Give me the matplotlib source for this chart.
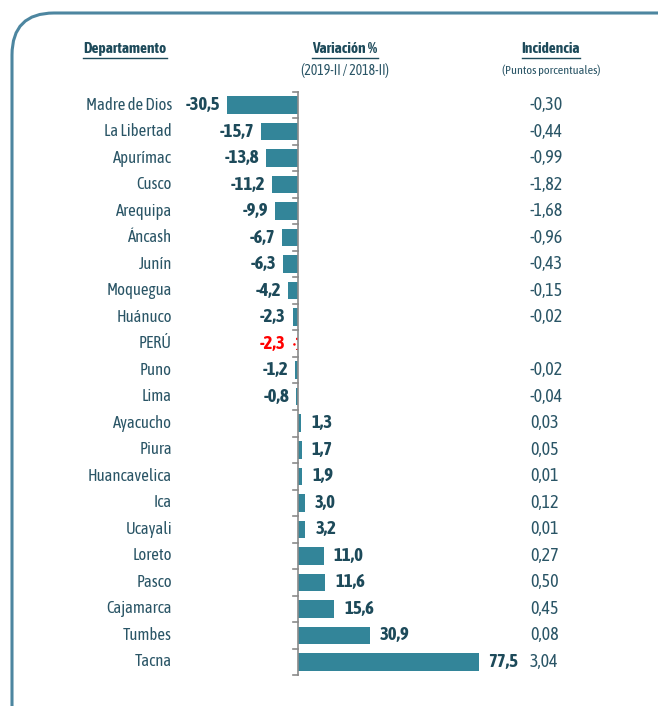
"""Variación % por departamento (2019-II / 2018-II) con incidencia."""
import matplotlib.pyplot as plt
import numpy as np
from matplotlib.patches import FancyBboxPatch
from matplotlib.lines import Line2D

plt.rcParams["font.family"] = ["Asap Condensed", "DejaVu Sans"]

departamentos = ["Madre de Dios", "La Libertad", "Apurímac", "Cusco", "Arequipa",
                 "Áncash", "Junín", "Moquegua", "Huánuco", "PERÚ", "Puno", "Lima",
                 "Ayacucho", "Piura", "Huancavelica", "Ica", "Ucayali", "Loreto",
                 "Pasco", "Cajamarca", "Tumbes", "Tacna"]
variacion = [-30.5, -15.7, -13.8, -11.2, -9.9, -6.7, -6.3, -4.2, -2.3, -2.3, -1.2,
             -0.8, 1.3, 1.7, 1.9, 3.0, 3.2, 11.0, 11.6, 15.6, 30.9, 77.5]
incidencia = [-0.30, -0.44, -0.99, -1.82, -1.68, -0.96, -0.43, -0.15, -0.02, None,
              -0.02, -0.04, 0.03, 0.05, 0.01, 0.12, 0.01, 0.27, 0.50, 0.45, 0.08, 3.04]

BAR = "#338599"
TXT = "#2a5566"
HEAD = "#1d4a5a"
W, H = 658, 706
PX = 2.33          # pixels per unit of variation
X0, Y0, DY = 298, 105, 26.52   # zero line, first row, row step (pixels)


def fmt(v, d):
    return f"{v:.{d}f}".replace(".", ",")


fig = plt.figure(figsize=(W / 100, H / 100), dpi=100)

# frame
bg = fig.add_axes([0, 0, 1, 1])
bg.set_xlim(0, W); bg.set_ylim(H, 0); bg.axis("off")
bg.add_patch(FancyBboxPatch((12, 13), 720, 760, boxstyle="round,pad=0,rounding_size=42",
                            fc="white", ec="#4d86a0", lw=2.2))

ax = fig.add_axes([0, 0, 1, 1], facecolor="none")
ax.set_xlim(-X0 / PX, (W - X0) / PX)
ax.set_ylim((H - Y0) / DY, -Y0 / DY)
ax.axis("off")

y = np.arange(len(departamentos))
colors = ["none" if d == "PERÚ" else BAR for d in departamentos]
ax.barh(y, variacion, height=0.66, color=colors)
i_peru = departamentos.index("PERÚ")
ax.barh(i_peru, variacion[i_peru], height=0.5, color="none", hatch="...",
        edgecolor="red", lw=0)

# zero axis with bracket ticks
ax.plot([0, 0], [-0.5, len(y) - 0.5], color="#8a8a8a", lw=1.2)
for b in np.arange(-0.5, len(y), 1.0):
    ax.plot([-5 / PX, 0], [b, b], color="#8a8a8a", lw=1.2)

for i, (d, v, inc) in enumerate(zip(departamentos, variacion, incidencia)):
    red = d == "PERÚ"
    ax.text((172 - X0) / PX, i, d, ha="right", va="center", fontsize=12, color=TXT)
    gap = (7 if v < 0 else 10) / PX
    ax.text(v - gap if v < 0 else v + gap, i, fmt(v, 1),
            ha="right" if v < 0 else "left", va="center", fontsize=13.5,
            fontweight="bold", color="red" if red else HEAD)
    if inc is not None:
        ax.text((530 - X0) / PX, i, fmt(inc, 2), ha="left", va="center",
                fontsize=13, color=TXT)

# headers
heads = [(125, "Departamento", None), (345, "Variación %", "(2019-II / 2018-II)"),
         (551, "Incidencia", "(Puntos porcentuales)")]
fig.canvas.draw()
r = fig.canvas.get_renderer()
for xc, h, sub in heads:
    t = bg.text(xc, 49, h, ha="center", va="center", fontsize=11,
                fontweight="bold", color=HEAD)
    bb = t.get_window_extent(r)
    bg.add_line(Line2D([xc - bb.width / 2, xc + bb.width / 2], [57.5, 57.5],
                       color=HEAD, lw=1))
    if sub:
        bg.text(xc, 70, sub, ha="center", va="center",
                fontsize=10 if "2019" in sub else 8.8, color=TXT)

fig.savefig("out.png", dpi=100)
